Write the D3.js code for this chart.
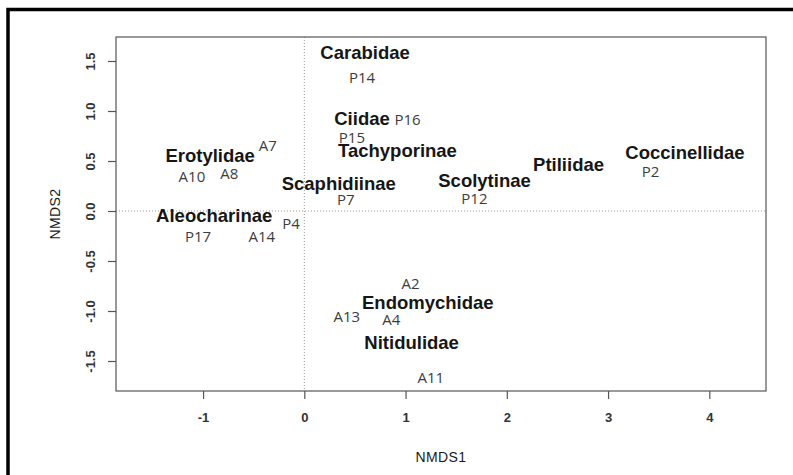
<!DOCTYPE html>
<html>
<head>
<meta charset="utf-8">
<script src="https://cdn.jsdelivr.net/npm/d3@7/dist/d3.min.js"></script>
<style>
  html, body { margin: 0; padding: 0; background: #fff; }
  svg { display: block; }
</style>
</head>
<body>
<svg id="chart" width="793" height="475"></svg>
<script>
// NMDS ordination: taxa scores (bold) and site scores
const taxa  = ["Carabidae", "Ciidae", "Tachyporinae", "Erotylidae", "Scaphidiinae", "Scolytinae",
               "Ptiliidae", "Coccinellidae", "Aleocharinae", "Endomychidae", "Nitidulidae"];
const taxaX = [0.60, 0.57, 0.92, -0.93, 0.34, 1.78, 2.61, 3.76, -0.89, 1.22, 1.06];
const taxaY = [1.59, 0.93, 0.61, 0.56, 0.28, 0.31, 0.47, 0.59, -0.04, -0.91, -1.31];

const sites  = ["P14", "P16", "P15", "A7", "A10", "A8", "P7", "P12", "P2",
                "P4", "P17", "A14", "A2", "A13", "A4", "A11"];
const siteX  = [0.57, 1.02, 0.47, -0.36, -1.11, -0.74, 0.41, 1.68, 3.42,
                -0.13, -1.05, -0.42, 1.05, 0.42, 0.86, 1.25];
const siteY  = [1.34, 0.92, 0.74, 0.66, 0.35, 0.38, 0.12, 0.13, 0.40,
                -0.12, -0.25, -0.25, -0.72, -1.05, -1.08, -1.66];

const xTicks = [-1, 0, 1, 2, 3, 4];
const yTicks = [-1.5, -1.0, -0.5, 0.0, 0.5, 1.0, 1.5];
const xTitle = "NMDS1";
const yTitle = "NMDS2";

const svg = d3.select("#chart");
const sans = "Liberation Sans, Arial, sans-serif";

// outer frame of the figure
svg.append("rect")
  .attr("x", 8).attr("y", 9.5)
  .attr("width", 800).attr("height", 480)
  .attr("fill", "none").attr("stroke", "#000").attr("stroke-width", 3.5);

const box = { left: 116, right: 766, top: 37, bottom: 391 };

const x = d3.scaleLinear().domain([-1.86, 4.56]).range([box.left, box.right]);
const y = d3.scaleLinear().domain([-1.80, 1.74]).range([box.bottom, box.top]);

const frameColor = "#555";
// plain hyphen for negative numbers
const fmtX = d => String(d);
const fmtY = d => d.toFixed(1);

// reference lines through the origin
svg.append("line")
  .attr("x1", x(0)).attr("x2", x(0)).attr("y1", box.top).attr("y2", box.bottom)
  .attr("stroke", "#999").attr("stroke-width", 1).attr("stroke-dasharray", "1,2");
svg.append("line")
  .attr("x1", box.left).attr("x2", box.right).attr("y1", y(0)).attr("y2", y(0))
  .attr("stroke", "#999").attr("stroke-width", 1).attr("stroke-dasharray", "1,2");

// plot box
svg.append("rect")
  .attr("x", box.left).attr("y", box.top)
  .attr("width", box.right - box.left).attr("height", box.bottom - box.top)
  .attr("fill", "none").attr("stroke", frameColor).attr("stroke-width", 1.2);

// x axis
const xAxis = svg.append("g")
  .attr("transform", `translate(0,${box.bottom})`)
  .call(d3.axisBottom(x).tickValues(xTicks).tickSize(8).tickPadding(14).tickFormat(fmtX));
xAxis.select(".domain").remove();
xAxis.selectAll(".tick line").attr("stroke", frameColor).attr("stroke-width", 1.2);
xAxis.selectAll(".tick text")
  .attr("font-family", sans)
  .attr("font-size", 13).attr("font-weight", "bold").attr("fill", "#333");

// y axis, labels parallel to the axis
const yAxis = svg.append("g")
  .attr("transform", `translate(${box.left},0)`)
  .call(d3.axisLeft(y).tickValues(yTicks).tickSize(8).tickFormat(fmtY));
yAxis.select(".domain").remove();
yAxis.selectAll(".tick line").attr("stroke", frameColor).attr("stroke-width", 1.2);
yAxis.selectAll(".tick text")
  .attr("font-family", sans)
  .attr("font-size", 13).attr("font-weight", "bold").attr("fill", "#333")
  .attr("text-anchor", "middle").attr("dominant-baseline", "central")
  .attr("x", null).attr("dy", null)
  .attr("transform", "translate(-26,0) rotate(-90)");

// axis titles
svg.append("text")
  .attr("x", (box.left + box.right) / 2).attr("y", 457)
  .attr("text-anchor", "middle").attr("dominant-baseline", "central")
  .attr("font-family", sans)
  .attr("font-size", 14).attr("fill", "#1a1a1a").attr("letter-spacing", 0.4)
  .text(xTitle);
svg.append("text")
  .attr("transform", `translate(55,${(box.top + box.bottom) / 2}) rotate(-90)`)
  .attr("text-anchor", "middle").attr("dominant-baseline", "central")
  .attr("font-family", sans)
  .attr("font-size", 14).attr("fill", "#1a1a1a").attr("letter-spacing", 0.4)
  .text(yTitle);

// site labels
svg.append("g").selectAll("text")
  .data(sites.map((s, i) => ({ s, vx: siteX[i], vy: siteY[i] })))
  .join("text")
  .attr("x", d => x(d.vx)).attr("y", d => y(d.vy))
  .attr("text-anchor", "middle").attr("dominant-baseline", "central")
  .attr("font-family", "Open Sans, sans-serif")
  .attr("font-size", 15).attr("fill", "#3d3d3d")
  .text(d => d.s);

// taxa labels
svg.append("g").selectAll("text")
  .data(taxa.map((t, i) => ({ t, vx: taxaX[i], vy: taxaY[i] })))
  .join("text")
  .attr("x", d => x(d.vx)).attr("y", d => y(d.vy))
  .attr("text-anchor", "middle").attr("dominant-baseline", "central")
  .attr("font-family", sans)
  .attr("font-size", 18.5).attr("font-weight", "bold").attr("fill", "#161616")
  .text(d => d.t);
</script>
</body>
</html>
